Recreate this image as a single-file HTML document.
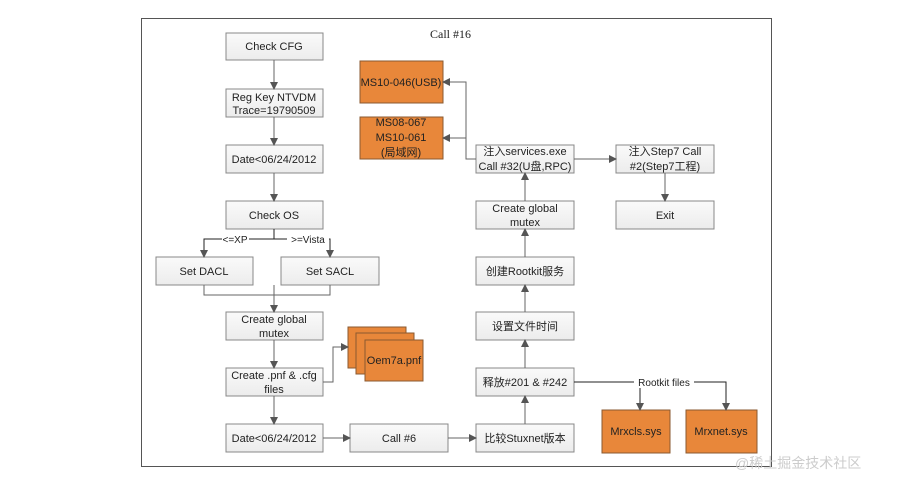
<!DOCTYPE html><html><head><meta charset="utf-8"><style>
body{margin:0;background:#fff;width:913px;height:489px;overflow:hidden;font-family:"Liberation Sans","Noto Sans CJK SC",sans-serif}
</style></head><body>
<svg width="913" height="489" xmlns="http://www.w3.org/2000/svg" font-family="Liberation Sans, Noto Sans CJK SC, sans-serif" font-size="11">
<defs>
<marker id="a" markerWidth="8" markerHeight="8" refX="7" refY="4" orient="auto" markerUnits="userSpaceOnUse"><path d="M0,0 L8,4 L0,8z" fill="#555"/></marker>
<linearGradient id="g" x1="0" y1="0" x2="0" y2="1"><stop offset="0" stop-color="#fafafa"/><stop offset="1" stop-color="#ececec"/></linearGradient>
</defs>
<rect x="141.5" y="18.5" width="630" height="448" fill="none" stroke="#555"/>
<text x="430" y="38" font-family="Liberation Serif, serif" font-size="12" fill="#222">Call #16</text>
<g fill="url(#g)" stroke="#888">
<rect x="226" y="33" width="97" height="27"/><rect x="226" y="89" width="97" height="28"/>
<rect x="226" y="145" width="97" height="28"/><rect x="226" y="201" width="97" height="28"/>
<rect x="156" y="257" width="97" height="28"/><rect x="281" y="257" width="98" height="28"/>
<rect x="226" y="312" width="97" height="28"/><rect x="226" y="368" width="97" height="28"/>
<rect x="226" y="424" width="97" height="28"/><rect x="350" y="424" width="98" height="28"/>
<rect x="476" y="424" width="98" height="28"/><rect x="476" y="368" width="98" height="28"/>
<rect x="476" y="312" width="98" height="28"/><rect x="476" y="257" width="98" height="28"/>
<rect x="476" y="201" width="98" height="28"/><rect x="476" y="145" width="98" height="28"/>
<rect x="616" y="145" width="98" height="28"/><rect x="616" y="201" width="98" height="28"/>
</g>
<g fill="#e8873a" stroke="#8a5a30">
<rect x="360" y="61" width="83" height="42"/><rect x="360" y="117" width="83" height="42"/>
<rect x="348" y="327" width="58" height="41"/><rect x="356" y="333" width="58" height="41"/><rect x="365" y="340" width="58" height="41"/>
<rect x="602" y="410" width="68" height="43"/><rect x="686" y="410" width="71" height="43"/>
</g>
<g fill="#222" text-anchor="middle">
<text x="274" y="50">Check CFG</text>
<text x="274" y="101">Reg Key NTVDM</text><text x="274" y="114">Trace=19790509</text>
<text x="274" y="163">Date&lt;06/24/2012</text>
<text x="274" y="219">Check OS</text>
<text x="204" y="275">Set DACL</text><text x="330" y="275">Set SACL</text>
<text x="274" y="323">Create global</text><text x="274" y="337">mutex</text>
<text x="274" y="379">Create .pnf &amp; .cfg</text><text x="274" y="393">files</text>
<text x="274" y="442">Date&lt;06/24/2012</text>
<text x="399" y="442">Call #6</text>
<text x="525" y="442">比较Stuxnet版本</text>
<text x="525" y="386">释放#201 &amp; #242</text>
<text x="525" y="330">设置文件时间</text>
<text x="525" y="275">创建Rootkit服务</text>
<text x="525" y="212">Create global</text><text x="525" y="226">mutex</text>
<text x="525" y="155">注入services.exe</text><text x="525" y="170">Call #32(U盘,RPC)</text>
<text x="665" y="155">注入Step7 Call</text><text x="665" y="170">#2(Step7工程)</text>
<text x="665" y="219">Exit</text>
<text x="401" y="86">MS10-046(USB)</text>
<text x="401" y="126">MS08-067</text><text x="401" y="141">MS10-061</text><text x="401" y="156">(局域网)</text>
<text x="394" y="364">Oem7a.pnf</text>
<text x="636" y="435">Mrxcls.sys</text><text x="721" y="435">Mrxnet.sys</text>
</g>
<g stroke="#666" fill="none" marker-end="url(#a)">
<path d="M274,60V89"/><path d="M274,117V145"/><path d="M274,173V201"/>
<path d="M274,285V312"/><path d="M274,340V368"/><path d="M274,396V424"/>
<path d="M323,438H350"/><path d="M448,438H476"/>
<path d="M525,424V396"/><path d="M525,368V340"/><path d="M525,312V285"/><path d="M525,257V229"/><path d="M525,201V173"/>
<path d="M574,159H616"/><path d="M665,173V201"/>
<path d="M476,159H466V82H443"/><path d="M466,138H443"/>
<path d="M323,382H333V347H348"/>
</g>
<g stroke="#222" fill="none" marker-end="url(#a)">
<path d="M274,229V239H204V257"/><path d="M274,239H330V257"/>
<path d="M574,382H726V410"/><path d="M640,382V410"/>
</g>
<path d="M204,285V295H330V285" stroke="#666" fill="none"/>
<g font-size="10" fill="#222" text-anchor="middle">
<rect x="222" y="233" width="27" height="12" fill="#fff"/><text x="235" y="243">&lt;=XP</text>
<rect x="287" y="233" width="42" height="12" fill="#fff"/><text x="308" y="243">&gt;=Vista</text>
<rect x="634" y="376" width="60" height="12" fill="#fff"/><text x="664" y="386">Rootkit files</text>
</g>
<text x="735" y="468" font-size="14" fill="#ccc">@稀土掘金技术社区</text>
</svg>
</body></html>
